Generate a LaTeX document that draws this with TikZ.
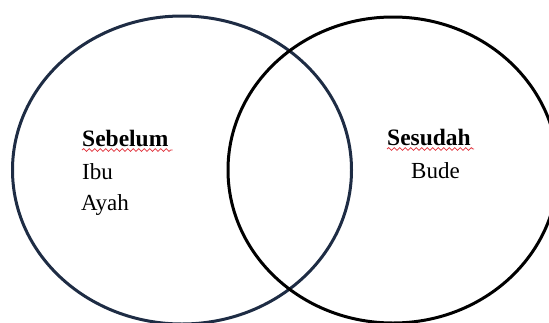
\documentclass[tikz,border=0pt]{standalone}
\usepackage{fontspec}
\setmainfont{Liberation Serif}
\usepackage{tikz}
\usetikzlibrary{positioning, shapes.geometric, decorations.pathmorphing}
\definecolor{ringnavy}{HTML}{1E2C44}
\definecolor{spellred}{HTML}{E0323C}

\begin{document}
\begin{tikzpicture}[
    x=1pt, y=-1pt,
    font=\fontsize{23}{27}\selectfont,
    ring/.style={draw, ellipse, line width=3pt, inner sep=0pt},
    label/.style={anchor=base west, inner sep=0pt},
    head/.style={label, font=\fontsize{23.5}{27}\selectfont\bfseries},
    squiggle/.style={spellred, line width=0.8pt, decorate,
        decoration={snake, amplitude=1.4pt, segment length=5.5pt}},
]
\useasboundingbox (0,0) rectangle (549,322);
\clip (0,0) rectangle (549,322);

% Two sets
\node[ring, draw=ringnavy, minimum width=339pt, minimum height=308pt] (kiri) at (182,170) {};
\node[ring, draw=black, minimum width=330pt, minimum height=306pt] (kanan) at (393,170) {};

% Left set
\node[head] (sebelum) at (82,146) {Sebelum};
\node[label] (ibu) at (82,179) {Ibu};
\node[label] (ayah) at (81,210) {Ayah};

% Right set
\node[head] (sesudah) at (387,145) {Sesudah};
\node[label] (bude) at (411,178) {Bude};

% Spell check marks
\draw[squiggle] ([yshift=-4pt]sebelum.base west) -- ([yshift=-4pt,xshift=4pt]sebelum.base east);
\draw[squiggle] ([yshift=-4pt]sesudah.base west) -- ([yshift=-4pt,xshift=3pt]sesudah.base east);

\end{tikzpicture}
\end{document}
